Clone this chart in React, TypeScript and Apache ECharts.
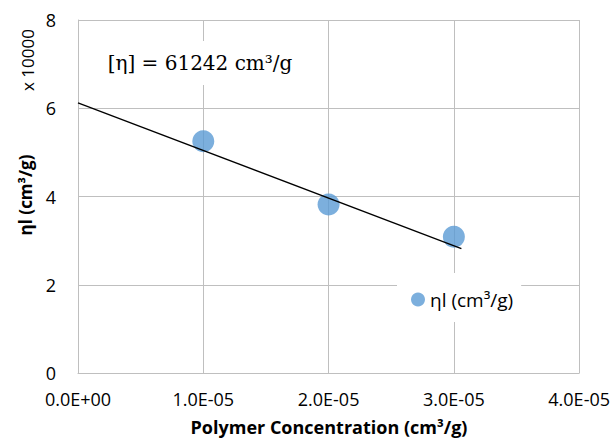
import React, { useEffect, useRef } from "react";
import * as echarts from "echarts";

const concentrations = [1.0e-5, 2.0e-5, 3.0e-5];
const inherentValues = [5.25, 3.82, 3.09];
const trendX = [0, 3.06e-5];
const trendY = [6.1242, 2.82];
const seriesName = "ηl (cm³/g)";
const xTitle = "Polymer Concentration (cm³/g)";
const yTitle = "ηl (cm³/g)";
const yUnit = "x 10000";
const annotation = "[η] = 61242 cm³/g";

const SANS = "'Open Sans', 'Noto Sans', sans-serif";

function fmtSci(v: number): string {
  if (v === 0) return "0.0E+00";
  const s = v.toExponential(1).toUpperCase();
  const [m, e] = s.split("E");
  const sign = e.startsWith("-") ? "-" : "+";
  const digits = e.replace(/[+-]/, "").padStart(2, "0");
  return `${m}E${sign}${digits}`;
}

export default function App() {
  const ref = useRef<HTMLDivElement>(null);
  useEffect(() => {
    if (!ref.current) return;
    const chart = echarts.init(ref.current, undefined, { renderer: "svg" });
    const gray = "#BFBFBF";
    chart.setOption({
      animation: false,
      backgroundColor: "#ffffff",
      grid: { left: 78, right: 33, top: 20, bottom: 68, containLabel: false },
      xAxis: {
        type: "value",
        min: 0,
        max: 4e-5,
        interval: 1e-5,
        axisLine: { show: true, lineStyle: { color: gray, width: 1 } },
        axisTick: { show: false },
        axisLabel: {
          formatter: (v: number) => fmtSci(v),
          color: "#000",
          fontFamily: SANS,
          fontSize: 18,
          margin: 17,
          showMaxLabel: true,
          showMinLabel: true,
        },
        splitLine: { show: true, lineStyle: { color: gray, width: 1 } },
      },
      yAxis: {
        type: "value",
        min: 0,
        max: 8,
        interval: 2,
        axisLine: { show: true, lineStyle: { color: gray, width: 1 } },
        axisTick: { show: false },
        axisLabel: {
          color: "#000",
          fontFamily: SANS,
          fontSize: 18,
          margin: 22,
        },
        splitLine: { show: true, lineStyle: { color: gray, width: 1 } },
      },
      legend: {
        data: [{ name: seriesName, icon: "circle" }],
        left: 397,
        top: 273,
        orient: "horizontal",
        itemWidth: 14,
        itemHeight: 14,
        padding: [17, 8, 13, 14],
        backgroundColor: "#ffffff",
        textStyle: { color: "#000", fontFamily: SANS, fontSize: 19 },
      },
      graphic: [
        {
          type: "text",
          x: 25,
          y: 195,
          rotation: Math.PI / 2,
          style: {
            text: yTitle,
            font: `bold 17px ${SANS}`,
            fill: "#000",
            align: "center",
            verticalAlign: "middle",
          },
        },
        {
          type: "text",
          x: 27,
          y: 60,
          rotation: Math.PI / 2,
          style: {
            text: yUnit,
            font: `17px ${SANS}`,
            fill: "#000",
            align: "center",
            verticalAlign: "middle",
          },
        },
        {
          type: "text",
          x: 329,
          y: 427,
          style: {
            text: xTitle,
            font: `bold 18px ${SANS}`,
            fill: "#000",
            align: "center",
            verticalAlign: "middle",
          },
        },
        {
          type: "text",
          x: 200,
          y: 63,
          z: 10,
          style: {
            text: annotation,
            font: `20px 'DejaVu Serif', 'Liberation Serif', serif`,
            fill: "#000",
            align: "center",
            verticalAlign: "middle",
            backgroundColor: "#ffffff",
            padding: [12, 8, 12, 8],
          },
        },
      ],
      series: [
        {
          name: seriesName,
          type: "scatter",
          data: concentrations.map((x, i) => [x, inherentValues[i]]),
          symbol: "circle",
          symbolSize: 22,
          itemStyle: { color: "#5B9BD5" },
          z: 3,
        },
        {
          name: "trend",
          type: "line",
          data: trendX.map((x, i) => [x, trendY[i]]),
          showSymbol: false,
          symbol: "none",
          lineStyle: { color: "#000", width: 1.3 },
          z: 4,
        },
      ],
    });
    return () => chart.dispose();
  }, []);
  return (
    <div
      ref={ref}
      style={{ position: "fixed", left: 0, top: 0, width: 613, height: 441 }}
    />
  );
}
